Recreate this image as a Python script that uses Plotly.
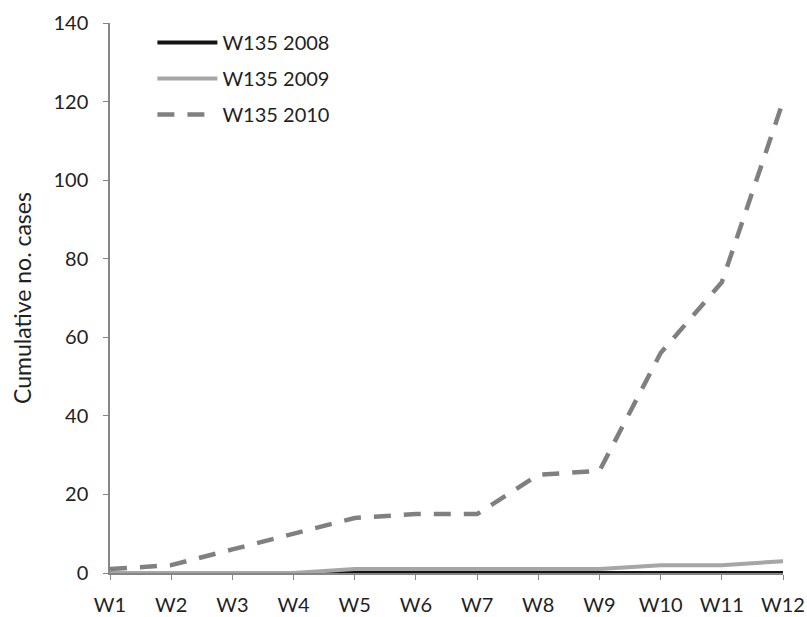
import plotly.graph_objects as go

weeks = ["W1", "W2", "W3", "W4", "W5", "W6", "W7", "W8", "W9", "W10", "W11", "W12"]
w135_2008 = [0, 0, 0, 0, 0, 0, 0, 0, 0, 0, 0, 0]
w135_2009 = [0, 0, 0, 0, 1, 1, 1, 1, 1, 2, 2, 3]
w135_2010 = [1, 2, 6, 10, 14, 15, 15, 25, 26, 56, 74, 120]
y_ticks = [0, 20, 40, 60, 80, 100, 120, 140]

FONT = "Lato, Open Sans, sans-serif"
TXT = "#1f1f1f"

fig = go.Figure()
fig.add_trace(go.Scatter(x=weeks, y=w135_2008, mode="lines", name="W135 2008",
                         legendgroup="a", line=dict(color="#141414", width=4)))
fig.add_trace(go.Scatter(x=weeks, y=w135_2009, mode="lines", name="W135 2009",
                         legendgroup="b", line=dict(color="#a6a6a6", width=4)))
fig.add_trace(go.Scatter(x=weeks, y=w135_2010, mode="lines", name="W135 2010",
                         legendgroup="c", line=dict(color="#808080", width=4.5, dash="17px,13px")))

fig.update_layout(
    width=807, height=617,
    margin=dict(l=110, r=24, t=23, b=44, autoexpand=False),
    paper_bgcolor="white", plot_bgcolor="white",
    font=dict(family=FONT, size=20, color=TXT),
    showlegend=True,
    legend=dict(x=0.063, y=1.0, xanchor="left", yanchor="top",
                bgcolor="rgba(0,0,0,0)", font=dict(size=20, color=TXT),
                tracegroupgap=7, itemwidth=60),
    xaxis=dict(type="category", range=[0, 11], showgrid=False, zeroline=False,
               automargin=False,
               showline=True, linecolor="#868686", linewidth=1.5,
               ticks="outside", ticklen=5, tickcolor="#868686",
               ticklabelstandoff=8,
               tickfont=dict(size=20), fixedrange=True),
    yaxis=dict(range=[0, 140], tickvals=y_ticks, showgrid=False, zeroline=False,
               automargin=False,
               showline=True, linecolor="#868686", linewidth=1.5,
               ticks="outside", ticklen=5, tickcolor="#868686",
               ticklabelstandoff=11,
               tickfont=dict(size=20),
               title=dict(text="Cumulative no. cases", font=dict(size=23), standoff=15)),
)

fig.write_html(
    "out.html",
    config={"displayModeBar": False},
    post_script="document.body.style.margin='0';document.body.style.overflow='hidden';",
)
